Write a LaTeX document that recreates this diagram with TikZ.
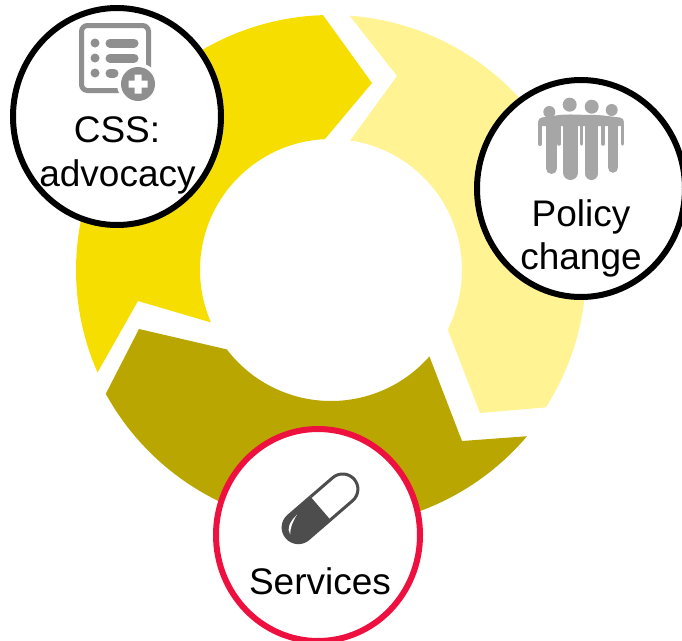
\documentclass[tikz,border=0pt]{standalone}
\usepackage{fontspec}
\setmainfont{Liberation Sans}
\usetikzlibrary{shapes.geometric}
\definecolor{ringA}{HTML}{F6DF00}
\definecolor{ringB}{HTML}{FFF394}
\definecolor{ringC}{HTML}{BAA600}
\definecolor{iconA}{HTML}{8F8F8F}
\definecolor{iconB}{HTML}{A6A6A6}
\definecolor{iconC}{HTML}{4D4D4D}
\definecolor{redring}{HTML}{EE1140}
\tikzset{
  badge/.style={ellipse,draw=black,fill=white,line width=6pt,inner sep=0pt,minimum width=#1},
  label/.style={anchor=base,inner sep=0pt,font=\fontsize{37}{44}\selectfont},
  limb/.style={draw=iconB,line cap=round,line width=#1}
}
\begin{document}
\begin{tikzpicture}[x=1pt,y=1pt,yscale=-1]
\useasboundingbox (0,0) rectangle (682,640);
\clip (0,0) rectangle (682,640);
% ring
\begin{scope}[shift={(331,270)}]
\fill[ringA] (268.2:255) -- (41,-187) -- (267.3:131) arc[start angle=267.3,end angle=156.4,radius=131]
  -- (-193,31) -- (156.3:255) arc[start angle=156.3,end angle=268.2,radius=255] -- cycle;
\fill[ringB] (274.2:255) -- (66,-194) -- (278.4:131) arc[start angle=278.4,end angle=387,radius=131]
  -- (149,143) -- (32.6:255) arc[start angle=32.6,end angle=-85.8,radius=255] -- cycle;
\fill[ringC] (-192,59) -- (142.7:131) arc[start angle=142.7,end angle=41.3,radius=131]
  -- (131,171) -- (40.3:257) arc[start angle=40.3,end angle=151.2,radius=257] -- cycle;
\end{scope}
% badges
\node[badge=208pt,minimum height=217pt] (css) at (117,116.5) {};
\node[badge=208pt,minimum height=217pt] (policy) at (581,188.5) {};
\node[badge=204pt,minimum height=212pt,draw=redring] (services) at (318,535) {};
% document icon
\draw[iconA,line width=5pt,rounded corners=6pt] (81.5,25.5) rectangle (148.5,90.5);
\fill[iconA] (95,43) circle[radius=4.5] (95,58) circle[radius=4.5] (95,73) circle[radius=4.5];
\draw[iconA,line width=9pt,line cap=round] (110,43) -- (134,43) (110,58) -- (134,58) (110,73) -- (114,73);
\fill[white] (138,84) circle[radius=21];
\fill[iconA] (138,84) circle[radius=17];
\fill[white] (128.5,80.5) rectangle (147.5,87.5) (134.5,74.5) rectangle (141.5,93.5);
% people icon
\fill[iconB] (549.3,112) circle[radius=6] (569.7,104.7) circle[radius=7] (591.7,106.7) circle[radius=7] (611.7,110) circle[radius=6];
\draw[limb=4pt] (540.3,124) -- (540.3,144);
\draw[limb=11pt] (551.5,124) -- (551.5,168.5);
\draw[limb=15pt] (570.5,122) -- (570.5,172.5);
\draw[limb=13pt] (591.5,122) -- (591.5,173.5);
\draw[limb=10.5pt] (613,124) -- (613,167.5);
\draw[limb=3.5pt] (622.5,124) -- (622.5,144);
\draw[limb=3.5pt] (559,124) -- (559,144);
\draw[limb=3.5pt] (581.5,124) -- (581.5,144);
\draw[limb=3.5pt] (603,124) -- (603,144);
\fill[iconB,rounded corners=4pt] (538,126) -- (538,118) -- (563,114.5) -- (599,115) -- (624,118) -- (624,126) -- cycle;
% pill icon
\begin{scope}[shift={(320.5,508.3)},rotate=-40.8]
\draw[iconC,line width=3pt] (0,-15.2) -- (29.3,-15.2) arc[start angle=-90,end angle=90,radius=15.2] -- (0,15.2);
\fill[iconC] (0,-16.7) -- (-29.3,-16.7) arc[start angle=270,end angle=90,radius=16.7] -- (0,16.7) -- cycle;
\fill[white] (-40,0) .. controls (-39,-7) and (-32,-10) .. (-22,-10.5) .. controls (-30,-8) and (-36,-5) .. (-40,0) -- cycle;
\end{scope}
% labels
\node[label] (t1) at (117,142.5) {CSS:};
\node[label] (t2) at (117.5,186.5) {advocacy};
\node[label] (t3) at (581,226) {Policy};
\node[label] (t4) at (581,269) {change};
\node[label] (t5) at (320,594) {Services};
\end{tikzpicture}
\end{document}
